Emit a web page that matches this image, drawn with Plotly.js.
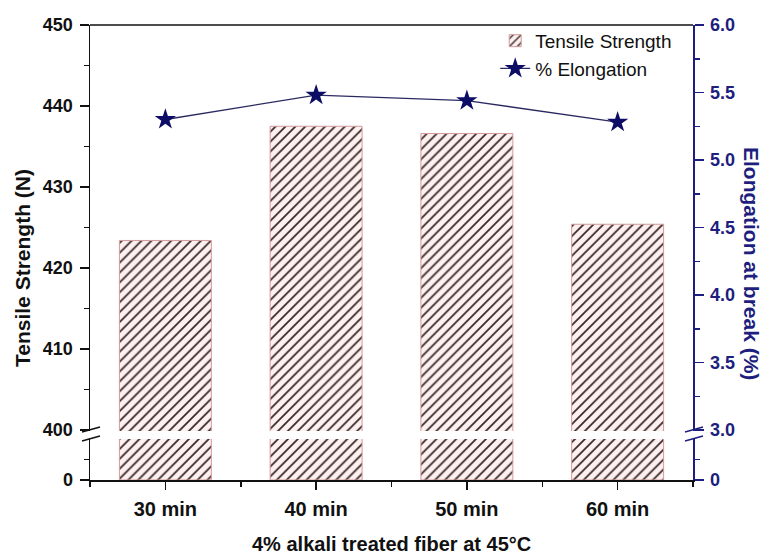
<!DOCTYPE html>
<html>
<head>
<meta charset="utf-8">
<script src="https://cdn.plot.ly/plotly-3.0.1.min.js"></script>
<style>html,body{margin:0;padding:0;background:#fff;}#chart{width:767px;height:554px;}</style>
</head>
<body>
<div id="chart"></div>
<script>
const categories = ['30 min', '40 min', '50 min', '60 min'];
const tensileStrength = [423.4, 437.5, 436.6, 425.4];
const elongation = [5.30, 5.48, 5.44, 5.28];
const leftUpperTicks = [400, 410, 420, 430, 440, 450];
const rightUpperTicks = [3.0, 3.5, 4.0, 4.5, 5.0, 5.5, 6.0];
const xIndex = categories.map((_, i) => i);

const FONT = 'Liberation Sans, Arial, sans-serif';
const NAVY = '#1e1e7e';
const STAR = '#0d0d66';

const barStyle = {
  color: '#fdf0f0',
  line: {color: '#d49a9a', width: 1},
  pattern: {shape: '/', fgcolor: '#3a2828', bgcolor: '#fdf0f0', size: 7, solidity: 0.25}
};

const traces = [
  {type: 'bar', x: xIndex, y: tensileStrength, xaxis: 'x', yaxis: 'y', width: 0.61,
   marker: barStyle, showlegend: false, hoverinfo: 'skip'},
  {type: 'bar', x: xIndex, y: tensileStrength, xaxis: 'x', yaxis: 'y2', width: 0.61,
   marker: barStyle, name: 'Tensile Strength'},
  {type: 'scatter', mode: 'lines+markers', x: xIndex, y: elongation, xaxis: 'x', yaxis: 'y3',
   name: '% Elongation', line: {color: '#2a2a60', width: 1.3},
   marker: {symbol: 'star', size: 16, color: STAR, line: {width: 0}}},
  // lower (broken) segment of the elongation axis: values lie above its range, nothing is drawn
  {type: 'scatter', mode: 'lines', x: xIndex, y: elongation, xaxis: 'x', yaxis: 'y4',
   opacity: 0, showlegend: false, hoverinfo: 'skip', line: {color: STAR, width: 1}}
];

const plotH = 455, plotW = 603;
const upperBottom = (480 - 431) / plotH;
const lowerTop = (480 - 439) / plotH;

const tickFont = {family: FONT, size: 18, color: '#111', weight: 'bold'};
const navyTickFont = {family: FONT, size: 18, color: NAVY, weight: 'bold'};

function yAx(extra, color) {
  return Object.assign({
    ticks: 'outside', ticklen: 9, tickwidth: 1.5, tickcolor: color, ticklabelstandoff: 3,
    showline: true, linecolor: color, linewidth: 1.5, showgrid: false, zeroline: false
  }, extra);
}

const layout = {
  width: 767, height: 554,
  margin: {l: 90, r: 74, t: 25, b: 74},
  paper_bgcolor: '#fff', plot_bgcolor: 'rgba(0,0,0,0)',
  showlegend: true,
  legend: {x: 0.672, y: 1.007, xanchor: 'left', yanchor: 'top', bgcolor: 'rgba(0,0,0,0)',
           font: {family: FONT, size: 19, color: '#111'}, tracegroupgap: 0, itemwidth: 30},
  xaxis: {domain: [0, 1], anchor: 'y', range: [-0.5, 3.5], tickvals: xIndex, ticktext: categories,
          ticks: 'outside', ticklen: 8, tickwidth: 1.5, tickcolor: '#111', ticklabelstandoff: 2,
          minor: {tickvals: [-0.5, 0.5, 1.5, 2.5, 3.5], ticks: 'outside', ticklen: 5, tickwidth: 1.5, tickcolor: '#111'},
          showline: true, linecolor: '#111', linewidth: 1.5, showgrid: false, zeroline: false,
          tickfont: {family: FONT, size: 20, color: '#111', weight: 'bold'}},
  yaxis: yAx({domain: [0, lowerTop], anchor: 'x', range: [0, 2], tickvals: [0], ticktext: ['0'],
          minor: {tickvals: [1], ticks: 'outside', ticklen: 5, tickwidth: 1.5, tickcolor: '#111'},
          tickfont: tickFont}, '#111'),
  yaxis2: yAx({domain: [upperBottom, 1], anchor: 'x', range: [399.877, 450], tickvals: leftUpperTicks,
           minor: {dtick: 5, tick0: 400, ticks: 'outside', ticklen: 5, tickwidth: 1.5, tickcolor: '#111'},
           tickfont: tickFont}, '#111'),
  yaxis3: yAx({overlaying: 'y2', side: 'right', anchor: 'x', range: [2.9926, 6], tickvals: rightUpperTicks,
           tickformat: '.1f',
           minor: {dtick: 0.25, tick0: 3, ticks: 'outside', ticklen: 5, tickwidth: 1.5, tickcolor: NAVY},
           tickfont: navyTickFont}, NAVY),
  yaxis4: yAx({overlaying: 'y', side: 'right', anchor: 'x', range: [0, 2], tickvals: [0], ticktext: ['0'],
           minor: {tickvals: [1], ticks: 'outside', ticklen: 5, tickwidth: 1.5, tickcolor: NAVY},
           tickfont: navyTickFont}, NAVY),
  shapes: [
    {type: 'line', xref: 'paper', yref: 'paper', x0: 0, x1: 1, y0: 1, y1: 1, line: {color: '#111', width: 1.5}},
    {type: 'line', xref: 'paper', yref: 'paper', x0: (82 - 90) / plotW, x1: (100 - 90) / plotW,
     y0: (480 - 432) / plotH, y1: (480 - 427) / plotH, line: {color: '#111', width: 1.5}},
    {type: 'line', xref: 'paper', yref: 'paper', x0: (82 - 90) / plotW, x1: (100 - 90) / plotW,
     y0: (480 - 441) / plotH, y1: (480 - 436) / plotH, line: {color: '#111', width: 1.5}},
    {type: 'line', xref: 'paper', yref: 'paper', x0: (685 - 90) / plotW, x1: (703 - 90) / plotW,
     y0: (480 - 432) / plotH, y1: (480 - 427) / plotH, line: {color: NAVY, width: 1.5}},
    {type: 'line', xref: 'paper', yref: 'paper', x0: (685 - 90) / plotW, x1: (703 - 90) / plotW,
     y0: (480 - 441) / plotH, y1: (480 - 436) / plotH, line: {color: NAVY, width: 1.5}}
  ],
  annotations: [
    {text: 'Tensile Strength (N)', xref: 'paper', yref: 'paper', x: (22 - 90) / plotW, y: (480 - 268) / plotH,
     textangle: -90, showarrow: false, xanchor: 'center', yanchor: 'middle',
     font: {family: FONT, size: 21, color: '#111', weight: 'bold'}},
    {text: 'Elongation at break (%)', xref: 'paper', yref: 'paper', x: (752 - 90) / plotW, y: (480 - 263) / plotH,
     textangle: 90, showarrow: false, xanchor: 'center', yanchor: 'middle',
     font: {family: FONT, size: 21, color: NAVY, weight: 'bold'}},
    {text: '4% alkali treated fiber at 45°C', xref: 'paper', yref: 'paper', x: 0.5, y: (480 - 544) / plotH,
     showarrow: false, xanchor: 'center', yanchor: 'middle',
     font: {family: FONT, size: 20, color: '#111', weight: 'bold'}}
  ]
};

Plotly.newPlot('chart', traces, layout, {displayModeBar: false, staticPlot: true});
</script>
</body>
</html>
